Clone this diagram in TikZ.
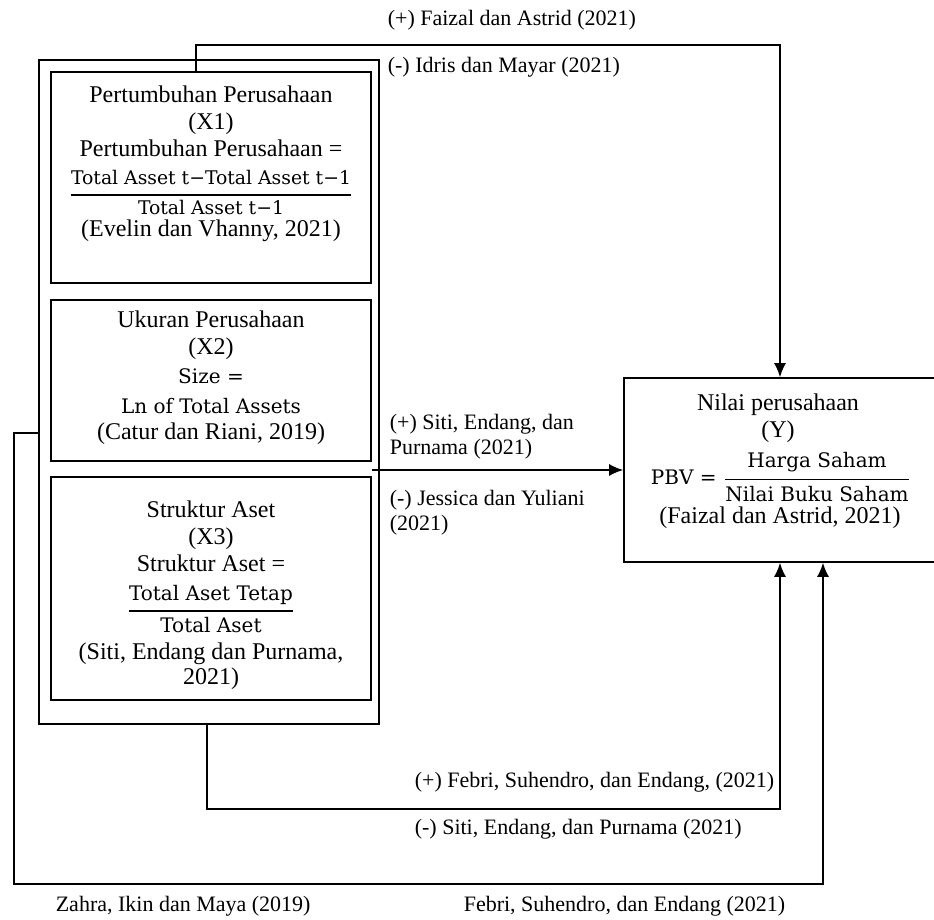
\documentclass[tikz,border=0pt]{standalone}
\usepackage{amsmath}
\usepackage{fontspec}
\setmainfont{Liberation Serif}
\newfontfamily\formfont{DejaVu Serif}
\usetikzlibrary{arrows.meta}
\newcommand{\FF}[1]{\hbox{\formfont #1}}
\newcommand{\Frac}[4]{$\displaystyle\genfrac{}{}{0.7pt}{0}{\raisebox{#3}{\FF{#1}}}{\raisebox{#4}{\FF{#2}}}$}

\begin{document}
\begin{tikzpicture}[x=0.5pt, y=-0.5pt, line width=0.8pt,
  arr/.style={-{Latex[length=7pt,width=6pt]}},
  varbox/.style={draw, minimum width=\W, inner sep=0pt},
  boxtext/.style={align=center, inner sep=0pt, font=\fontsize{12}{13.5}\selectfont},
  formtext/.style={align=center, inner sep=0pt, font=\fontsize{10}{15}\formfont},
  cite/.style={anchor=west, align=left, inner sep=0pt, font=\fontsize{11}{12.5}\selectfont}]

  \newcommand\W{160pt};
  \useasboundingbox (0,0) rectangle (934,920);

  \node[draw, minimum width=170pt, minimum height=332pt] (outer) at (209,392) {};
  \node[varbox, minimum height=105.5pt] (x1) at (211,177.5) {};
  \node[varbox, minimum height=80.5pt] (x2) at (211,380.5) {};
  \node[varbox, minimum height=111.5pt] (x3) at (211,588.5) {};
  \node[draw, minimum width=155.5pt, minimum height=92pt] (y) at (779.5,470) {};

  %% X1
  \node[boxtext] (x1t) at (211,121.5) {Pertumbuhan Perusahaan\\(X1)\\Pertumbuhan Perusahaan =};
  \node[formtext, font=\fontsize{9.4}{12}\formfont] (x1f) at (211,192.5)
    {\Frac{Total Asset t−Total Asset t−1}{Total Asset t−1}{1.5pt}{-1.2pt}};
  \node[boxtext] (x1c) at (211,231) {(Evelin dan Vhanny, 2021)};

  %% X2
  \node[boxtext] (x2t) at (211,335.5) {Ukuran Perusahaan\\(X2)};
  \node[formtext] (x2f) at (211,391) {Size =\\Ln of Total Assets};
  \node[boxtext] (x2c) at (211,434) {(Catur dan Riani, 2019)};

  %% X3
  \node[boxtext] (x3t) at (211,536.5) {Struktur Aset\\(X3)\\Struktur Aset =};
  \node[formtext] (x3f) at (211,609) {\Frac{Total Aset Tetap}{Total Aset}{1pt}{-1.5pt}};
  \node[boxtext, font=\fontsize{12}{12.5}\selectfont] (x3c) at (211,666) {(Siti, Endang dan Purnama,\\2021)};

  %% Y
  \node[boxtext] (yt) at (778,418.5) {Nilai perusahaan\\(Y)};
  \node[formtext] (yf) at (781,477)
    {\FF{PBV =}\ \Frac{Harga Saham}{Nilai Buku Saham}{1.5pt}{-1.5pt}};
  \node[boxtext] (yc) at (780,518) {(Faizal dan Astrid, 2021)};

  %% X1 -> Y
  \coordinate (ta) at (196,45);
  \coordinate (tb) at (780,45);
  \draw[arr] (ta |- x1.north) -- (ta) -- (tb) -- (tb |- y.north);
  \node[cite] (l1) at (387,20) {(+) Faizal dan Astrid (2021)};
  \node[cite] (l2) at (387,67) {(-) Idris dan Mayar (2021)};

  %% X2 -> Y
  \draw[arr] (x2.east |- y.west) -- (y.west);
  \node[cite] (l3) at (389,436.5) {(+) Siti, Endang, dan\\Purnama (2021)};
  \node[cite] (l4) at (389,512.5) {(-) Jessica dan Yuliani\\(2021)};

  %% X3 -> Y
  \coordinate (ba) at (207,809);
  \coordinate (bb) at (780,809);
  \draw[arr] (ba |- outer.south) -- (ba) -- (bb) -- (bb |- y.south);
  \node[cite] (l5) at (414,782) {(+) Febri, Suhendro, dan Endang, (2021)};
  \node[cite] (l6) at (414,829) {(-) Siti, Endang, dan Purnama (2021)};

  %% X1, X2, X3 -> Y
  \coordinate (ca) at (14,433);
  \coordinate (cb) at (14,884);
  \coordinate (cc) at (823,884);
  \draw[arr] (ca -| outer.west) -- (ca) -- (cb) -- (cc) -- (cc |- y.south);
  \node[cite] (l7) at (55,906) {Zahra, Ikin dan Maya (2019)};
  \node[cite] (l8) at (463,906) {Febri, Suhendro, dan Endang (2021)};
\end{tikzpicture}
\end{document}
